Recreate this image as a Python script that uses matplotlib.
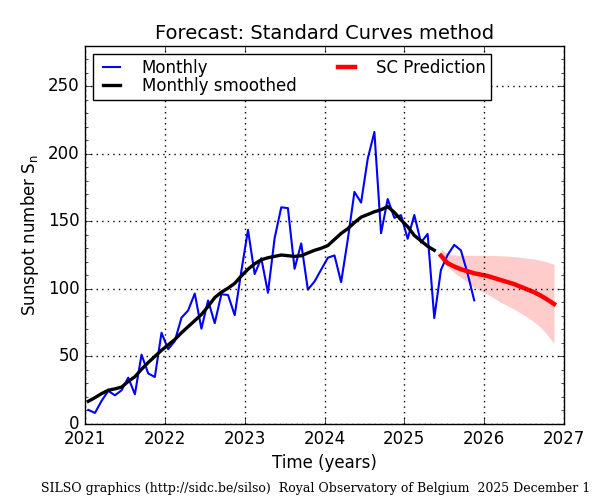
import matplotlib
matplotlib.use("Agg")
import matplotlib.pyplot as plt
import numpy as np

# monthly mean sunspot number, Jan 2021 .. Nov 2025
monthly = [
    10.4, 8.2, 17.2, 24.5, 21.2, 25.0, 34.3, 22.0, 51.3, 37.4, 34.8, 67.5,
    55.3, 61.4, 78.6, 84.0, 96.5, 70.5, 91.4, 74.6, 96.0, 95.4, 80.5, 113.1,
    143.6, 110.9, 122.6, 97.1, 137.4, 160.3, 159.7, 114.8, 133.6, 99.4, 105.4, 114.2,
    123.0, 124.7, 104.9, 136.5, 171.7, 163.8, 196.3, 216.0, 141.1, 166.4, 152.5, 154.5,
    137.0, 154.6, 134.2, 140.6, 78.4, 114.0, 125.0, 132.5, 128.5, 111.5, 91.5,
]
# 13-month smoothed, Jan 2021 .. May 2025
smoothed = [
    16.8, 19.5, 22.5, 25.0, 26.0, 27.3, 31.5, 35.0, 40.5, 45.5, 50.0, 54.5,
    58.5, 62.5, 67.5, 72.0, 76.5, 81.0, 87.0, 93.5, 97.5, 100.5, 104.0, 109.5,
    114.5, 118.5, 121.5, 123.0, 124.0, 125.0, 124.5, 124.0, 124.5, 126.5, 128.5, 130.0,
    132.0, 136.5, 141.0, 144.5, 149.0, 153.0, 155.0, 157.0, 158.5, 160.8, 156.5, 151.0,
    146.0, 139.5, 135.5, 131.5, 128.5,
]
# Standard Curves prediction, Jun 2025 .. Nov 2026
pred = [124.5, 119.0, 116.5, 114.5, 113.0, 111.5, 110.5, 109.5, 108.0,
        106.5, 105.0, 103.5, 101.5, 99.5, 97.5, 95.0, 92.0, 88.8]
pred_hi = [129.5, 126.0, 125.0, 124.8, 124.8, 124.8, 124.8, 124.7, 124.6,
           124.4, 124.2, 123.8, 123.3, 122.7, 122.0, 121.0, 119.8, 118.0]
pred_lo = [121.0, 116.0, 112.0, 108.5, 105.0, 101.0, 98.5, 96.0, 93.0,
           90.0, 87.5, 85.0, 82.0, 79.0, 75.5, 71.5, 66.0, 59.5]

start_year = 2021
t_month = start_year + (np.arange(len(monthly)) + 0.5) / 12.0
t_smooth = start_year + (np.arange(len(smoothed)) + 0.5) / 12.0
t_pred = t_smooth[-1] + (np.arange(1, len(pred) + 1)) / 12.0

plt.style.use("classic")
plt.rcParams["font.family"] = ["DejaVu Sans"]
plt.rcParams["font.size"] = 12
plt.rcParams["axes.formatter.useoffset"] = False

fig = plt.figure(figsize=(6, 5), dpi=100)
ax = fig.add_axes([85 / 600, 76 / 500, 479 / 600, 378.5 / 500])

ax.fill_between(t_pred, pred_lo, pred_hi, color="#ffcccc", linewidth=0)
ax.plot(t_month, monthly, color="blue", lw=1.5, label="Monthly")
ax.plot(t_smooth, smoothed, color="black", lw=2.4, label="Monthly smoothed")
ax.plot(t_pred, pred, color="red", lw=3.2, label="SC Prediction")

ax.set_xlim(2021, 2027)
ax.set_ylim(0, 280)
ax.set_xticks(np.arange(2021, 2028))
ax.set_yticks(np.arange(0, 251, 50))
ax.set_yticks(np.arange(0, 281, 10), minor=True)
ax.tick_params(which="both", direction="in", top=True, right=True)
ax.tick_params(axis="x", which="minor", bottom=False, top=False)
ax.grid(True, which="major", linestyle=":", color="black", lw=1)

ax.set_title("Forecast: Standard Curves method", fontsize=14)
ax.set_xlabel("Time (years)", fontsize=12)
ax.set_ylabel(r"Sunspot number $\mathregular{S_n}$", fontsize=12)

ax.legend(loc="upper left", ncol=2, fontsize=12, frameon=True, fancybox=False,
          handlelength=1.6, handletextpad=1.0, columnspacing=2.2,
          borderaxespad=0.5, labelspacing=0.0, borderpad=0.3)

fig.text(41 / 600, 5 / 500,
         "SILSO graphics (http://sidc.be/silso)  Royal Observatory of Belgium  2025 December 1",
         ha="left", va="bottom", fontsize=9, family="DejaVu Serif")

fig.savefig("out.png", dpi=100)
